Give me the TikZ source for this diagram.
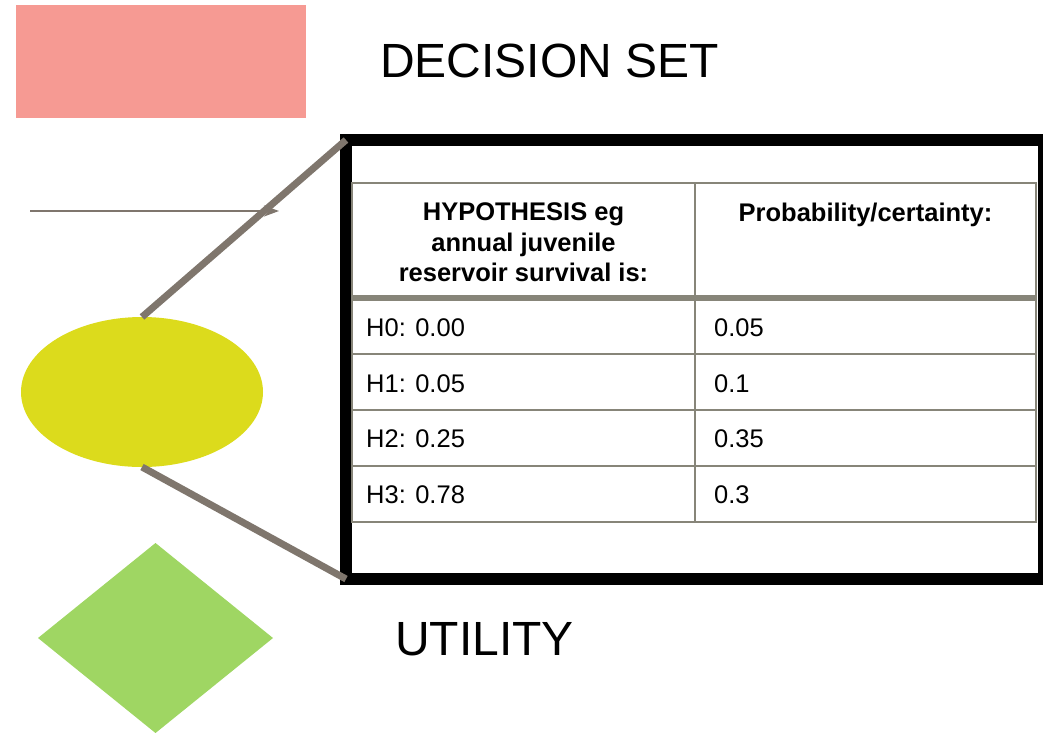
\documentclass[tikz,border=0pt]{standalone}
\usepackage{fontspec}
\setmainfont{Liberation Sans}
\usetikzlibrary{shapes.geometric,arrows.meta}
\definecolor{pinkset}{HTML}{F69A93}
\definecolor{yelnode}{HTML}{DCDB1C}
\definecolor{grnnode}{HTML}{9FD663}
\definecolor{connc}{HTML}{7F766D}
\definecolor{tabc}{HTML}{878579}
\tikzset{
  bigtext/.style={font=\fontsize{48}{56}\selectfont, inner sep=0pt},
  celltext/.style={font=\fontsize{25.5}{30}\selectfont, inner sep=0pt, anchor=base west},
  headtext/.style={font=\bfseries\fontsize{25.5}{30.5}\selectfont, inner sep=0pt, anchor=north, align=center},
  thickconn/.style={draw=connc, line width=7pt},
  thinconn/.style={draw=connc, line width=2.2pt, -{Stealth[length=15pt,width=11pt]}},
  tabline/.style={draw=tabc, line width=2.5pt},
}
\begin{document}
\begin{tikzpicture}[x=1pt,y=-1pt]
\useasboundingbox (0,0) rectangle (1043,732);
\begin{scope}
\clip (0,0) rectangle (1043,732);
% decision set
\node[fill=pinkset, minimum width=290pt, minimum height=113pt, inner sep=0pt, outer sep=0pt] (dec) at (161,61.5) {};
\node[bigtext, anchor=base west] (dectxt) at (380,77) {DECISION SET};
% arrow
\coordinate (a0) at (30,211);
\coordinate (a1) at (279,211);
\draw[thinconn] (a0) -- (a1);
% ellipse
\node[ellipse, fill=yelnode, minimum width=242pt, minimum height=150pt, inner sep=0pt, outer sep=0pt] (hyp) at (142,392) {};
% diamond
\node[diamond, fill=grnnode, aspect=1.237, minimum width=235pt, minimum height=190pt, inner sep=0pt, outer sep=0pt] (util) at (155.5,638) {};
\node[bigtext, anchor=base west] (utiltxt) at (395,655) {UTILITY};
% frame
\node[draw=black, line width=11.5pt, minimum width=698pt, minimum height=439pt, inner sep=0pt, outer sep=0pt] (frame) at (695,359.5) {};
% connectors
\draw[thickconn] (hyp.north) -- (frame.north west);
\draw[thickconn] (hyp.south) -- (frame.south west);
% table
\coordinate (tl) at (352,183);
\coordinate (br) at (1036,522);
\coordinate (ct) at (695,183);
\coordinate (cb) at (695,522);
\draw[tabline] (tl) rectangle (br);
\draw[tabline] (ct) -- (cb);
\draw[draw=tabc, line width=5.5pt] (352,298) -- (1036,298);
\draw[tabline] (352,354) -- (1036,354);
\draw[tabline] (352,410) -- (1036,410);
\draw[tabline] (352,466) -- (1036,466);
% header texts
\node[headtext] (h1) at (523.5,202.5) {HYPOTHESIS eg\\annual juvenile\\reservoir survival is:};
\node[headtext] (h2) at (865.5,202.5) {Probability/certainty:};
% cells
\node[celltext] (r0a) at (366,336) {H0: 0.00};
\node[celltext] (r0b) at (714,336) {0.05};
\node[celltext] (r1a) at (366,392) {H1: 0.05};
\node[celltext] (r1b) at (714,392) {0.1};
\node[celltext] (r2a) at (366,447) {H2: 0.25};
\node[celltext] (r2b) at (714,447) {0.35};
\node[celltext] (r3a) at (366,503) {H3: 0.78};
\node[celltext] (r3b) at (714,503) {0.3};
\end{scope}
\end{tikzpicture}
\end{document}
